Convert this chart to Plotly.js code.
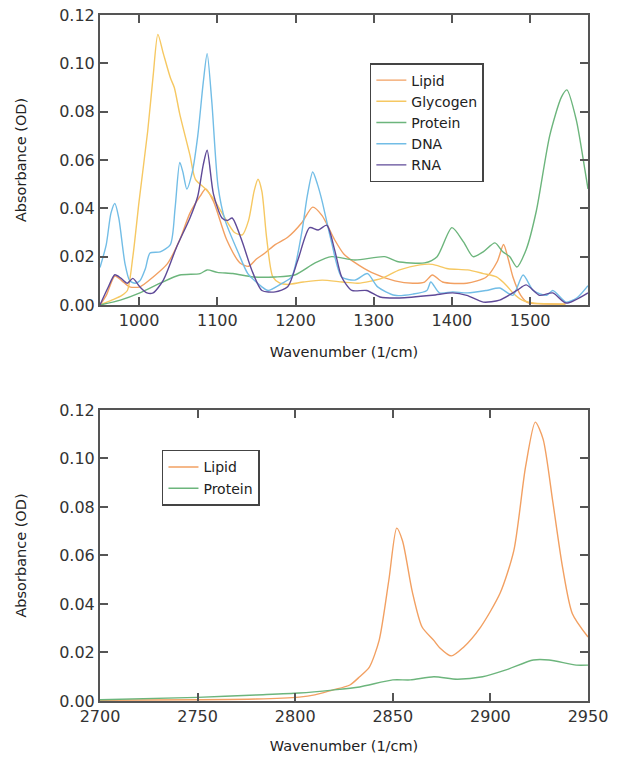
<!DOCTYPE html>
<html>
<head>
<meta charset="utf-8">
<script src="https://cdn.plot.ly/plotly-3.0.1.min.js"></script>
<style>
  html, body { margin: 0; padding: 0; background: #ffffff; }
  #chart { width: 619px; height: 760px; }
</style>
</head>
<body>
<div id="chart"></div>
<script>
// ---- Fingerprint region (950-1575 1/cm) ----
const lipidWn = [950, 958, 969, 978, 988, 1001, 1018, 1036, 1052, 1065, 1078, 1085, 1095, 1112, 1129, 1140, 1150, 1161, 1174, 1190, 1208, 1222, 1234, 1250, 1262, 1276, 1297, 1327, 1350, 1365, 1375, 1388, 1419, 1444, 1458, 1466, 1472, 1478, 1488, 1497, 1515, 1545];
const lipidAbs = [0.000, 0.004, 0.012, 0.010, 0.0075, 0.0075, 0.0116, 0.017, 0.027, 0.038, 0.045, 0.048, 0.043, 0.027, 0.0174, 0.016, 0.019, 0.0215, 0.025, 0.028, 0.034, 0.0405, 0.037, 0.027, 0.021, 0.0175, 0.0135, 0.010, 0.009, 0.0095, 0.0124, 0.0095, 0.009, 0.0116, 0.018, 0.025, 0.019, 0.0116, 0.004, 0.001, 0.0005, 0.0003];

const glycogenWn = [950, 965, 978, 985, 992, 1000, 1011, 1018, 1024, 1031, 1040, 1045, 1052, 1065, 1072, 1085, 1095, 1108, 1122, 1132, 1140, 1147, 1152, 1157, 1163, 1171, 1180, 1190, 1210, 1234, 1260, 1280, 1310, 1333, 1359, 1375, 1395, 1420, 1440, 1457, 1470, 1478, 1490, 1504, 1545];
const glycogenAbs = [0.000, 0.002, 0.004, 0.006, 0.020, 0.043, 0.072, 0.095, 0.112, 0.104, 0.094, 0.090, 0.079, 0.062, 0.052, 0.048, 0.044, 0.037, 0.030, 0.029, 0.035, 0.047, 0.052, 0.047, 0.028, 0.0116, 0.009, 0.0085, 0.0095, 0.0103, 0.0095, 0.009, 0.011, 0.0145, 0.0166, 0.0168, 0.015, 0.0145, 0.013, 0.0116, 0.008, 0.005, 0.002, 0.0008, 0.0003];

const proteinWn = [950, 976, 1001, 1027, 1052, 1078, 1087, 1100, 1120, 1146, 1174, 1199, 1225, 1246, 1276, 1314, 1330, 1365, 1381, 1400, 1415, 1427, 1440, 1455, 1465, 1474, 1483, 1495, 1508, 1525, 1540, 1547, 1559, 1570, 1574];
const proteinAbs = [0.000, 0.002, 0.005, 0.009, 0.0124, 0.013, 0.0145, 0.0135, 0.013, 0.0116, 0.0116, 0.0124, 0.0174, 0.020, 0.0186, 0.020, 0.018, 0.0174, 0.020, 0.032, 0.026, 0.020, 0.022, 0.0257, 0.022, 0.020, 0.0157, 0.023, 0.039, 0.070, 0.086, 0.089, 0.0766, 0.056, 0.048];

const dnaWn = [950, 958, 964, 969, 974, 982, 988, 995, 1001, 1008, 1014, 1027, 1040, 1046, 1052, 1056, 1061, 1068, 1075, 1082, 1087, 1093, 1101, 1110, 1127, 1139, 1157, 1165, 1183, 1195, 1208, 1215, 1222, 1228, 1234, 1246, 1259, 1276, 1292, 1305, 1327, 1350, 1368, 1373, 1384, 1401, 1420, 1444, 1461, 1478, 1491, 1504, 1521, 1529, 1546, 1560, 1574];
const dnaAbs = [0.0155, 0.025, 0.038, 0.042, 0.036, 0.017, 0.010, 0.009, 0.010, 0.015, 0.0215, 0.022, 0.025, 0.040, 0.059, 0.055, 0.048, 0.055, 0.070, 0.092, 0.104, 0.084, 0.049, 0.035, 0.0215, 0.013, 0.0075, 0.006, 0.009, 0.0116, 0.030, 0.045, 0.055, 0.050, 0.043, 0.026, 0.0116, 0.0103, 0.013, 0.0075, 0.004, 0.0045, 0.006, 0.0095, 0.005, 0.0054, 0.005, 0.006, 0.007, 0.004, 0.0124, 0.006, 0.004, 0.006, 0.0012, 0.003, 0.008];

const rnaWn = [950, 960, 969, 977, 985, 992, 1001, 1010, 1018, 1031, 1048, 1065, 1075, 1082, 1087, 1095, 1106, 1113, 1119, 1131, 1144, 1157, 1174, 1190, 1203, 1218, 1229, 1240, 1250, 1259, 1272, 1291, 1308, 1333, 1375, 1401, 1419, 1440, 1461, 1483, 1495, 1512, 1529, 1546, 1574];
const rnaAbs = [0.000, 0.007, 0.0125, 0.011, 0.009, 0.011, 0.0075, 0.005, 0.005, 0.0103, 0.024, 0.036, 0.045, 0.058, 0.064, 0.046, 0.036, 0.035, 0.036, 0.027, 0.0145, 0.006, 0.0054, 0.0075, 0.0186, 0.032, 0.031, 0.033, 0.0228, 0.0116, 0.006, 0.006, 0.0033, 0.0029, 0.004, 0.005, 0.004, 0.0012, 0.002, 0.006, 0.0083, 0.004, 0.005, 0.0008, 0.005];

// ---- C-H stretch region (2700-2950 1/cm) ----
const lipidChWn = [2700, 2750, 2780, 2802, 2810, 2819, 2828, 2833, 2838, 2843, 2848, 2852, 2855, 2860, 2865, 2871, 2874, 2880, 2886, 2895, 2905, 2912, 2918, 2923, 2927, 2932, 2937, 2942, 2950];
const lipidChAbs = [0.0003, 0.0005, 0.0008, 0.0016, 0.0025, 0.0045, 0.0066, 0.010, 0.014, 0.025, 0.050, 0.0713, 0.066, 0.045, 0.0305, 0.025, 0.022, 0.0186, 0.022, 0.0305, 0.0445, 0.062, 0.0965, 0.115, 0.108, 0.082, 0.055, 0.036, 0.0264];

const proteinChWn = [2700, 2750, 2780, 2802, 2819, 2833, 2850, 2859, 2871, 2883, 2896, 2908, 2922, 2930, 2944, 2950];
const proteinChAbs = [0.0005, 0.0015, 0.0025, 0.0033, 0.0045, 0.0058, 0.0087, 0.0087, 0.010, 0.009, 0.010, 0.0128, 0.0169, 0.0169, 0.0148, 0.0148];

const absTicks = [0, 0.02, 0.04, 0.06, 0.08, 0.10, 0.12];

const colors = {
  lipid: '#f2a062',
  glycogen: '#f6c862',
  protein: '#6cb57c',
  dna: '#72bde6',
  rna: '#5f4a98'
};

function line(name, x, y, color, xa, ya, legend) {
  return {
    type: 'scatter', mode: 'lines', name: name, x: x, y: y,
    xaxis: xa, yaxis: ya, legend: legend, showlegend: true,
    line: { color: color, width: 1.4, shape: 'spline', smoothing: 0.7 },
    hoverinfo: 'x+y+name'
  };
}

const traces = [
  line('Lipid', lipidWn, lipidAbs, colors.lipid, 'x', 'y', 'legend'),
  line('Glycogen', glycogenWn, glycogenAbs, colors.glycogen, 'x', 'y', 'legend'),
  line('Protein', proteinWn, proteinAbs, colors.protein, 'x', 'y', 'legend'),
  line('DNA', dnaWn, dnaAbs, colors.dna, 'x', 'y', 'legend'),
  line('RNA', rnaWn, rnaAbs, colors.rna, 'x', 'y', 'legend'),
  line('Lipid', lipidChWn, lipidChAbs, colors.lipid, 'x2', 'y2', 'legend2'),
  line('Protein', proteinChWn, proteinChAbs, colors.protein, 'x2', 'y2', 'legend2')
];

const FONT = 'DejaVu Sans, Verdana, sans-serif';
const axisCommon = {
  showline: true, linecolor: '#555555', linewidth: 2,
  mirror: 'ticks', ticks: 'inside', ticklen: 8, tickwidth: 2, tickcolor: '#555555',
  showgrid: false, zeroline: false,
  tickfont: { family: FONT, size: 16, color: '#333333' }
};
const titleFont = { family: FONT, size: 14.5, color: '#222222' };

const layout = {
  width: 619, height: 760,
  margin: { l: 100, r: 31, t: 15, b: 59 },
  paper_bgcolor: '#ffffff', plot_bgcolor: '#ffffff',
  showlegend: true,
  xaxis: Object.assign({}, axisCommon, {
    domain: [0, 1], anchor: 'y', range: [950, 1574],
    tickvals: [1000, 1100, 1200, 1300, 1400, 1500],
    title: { text: 'Wavenumber (1/cm)', font: titleFont, standoff: 18 }
  }),
  yaxis: Object.assign({}, axisCommon, {
    domain: [0.5773, 1], anchor: 'x', range: [0, 0.12],
    tickvals: absTicks, tickformat: '.2f',
    title: { text: 'Absorbance (OD)', font: titleFont, standoff: 29 }
  }),
  xaxis2: Object.assign({}, axisCommon, {
    domain: [0, 1], anchor: 'y2', range: [2700, 2950],
    tickvals: [2700, 2750, 2800, 2850, 2900, 2950],
    title: { text: 'Wavenumber (1/cm)', font: titleFont, standoff: 16 }
  }),
  yaxis2: Object.assign({}, axisCommon, {
    domain: [0, 0.4242], anchor: 'x2', range: [0, 0.12],
    tickvals: absTicks, tickformat: '.2f',
    title: { text: 'Absorbance (OD)', font: titleFont, standoff: 29 }
  }),
  legend: {
    x: 0.553, y: 0.930, xanchor: 'left', yanchor: 'top',
    bgcolor: '#ffffff', bordercolor: '#444444', borderwidth: 1.5,
    font: { family: FONT, size: 14, color: '#222222' },
    tracegroupgap: 0
  },
  legend2: {
    x: 0.127, y: 0.366, xanchor: 'left', yanchor: 'top',
    bgcolor: '#ffffff', bordercolor: '#444444', borderwidth: 1.5,
    font: { family: FONT, size: 14, color: '#222222' },
    tracegroupgap: 0
  }
};

Plotly.newPlot('chart', traces, layout, { displayModeBar: false, staticPlot: true });
</script>
</body>
</html>
